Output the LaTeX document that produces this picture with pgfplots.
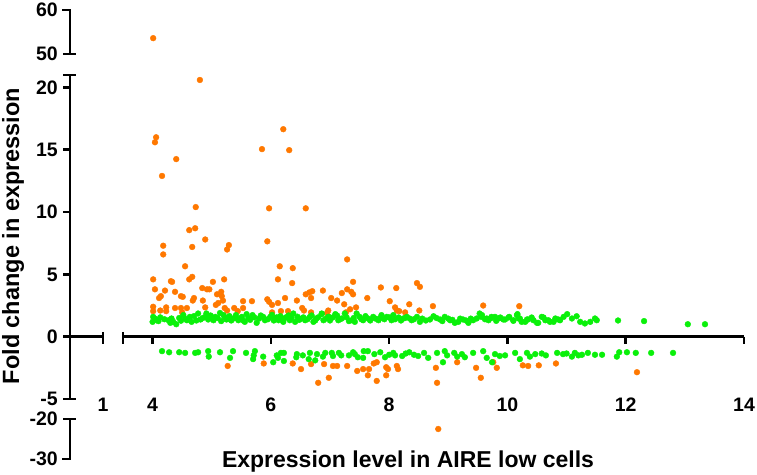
\documentclass[border=0pt]{standalone}
\usepackage{pgfplots}
\pgfplotsset{compat=1.18}
\usepackage{fontspec}
\setmainfont{Liberation Sans}
\definecolor{gor}{RGB}{255,120,0}
\definecolor{ggr}{RGB}{10,240,10}
\pgfplotsset{brk/.style={scale only axis, width=621bp, xmin=3.5, xmax=14, hide axis, clip=false, anchor=south west},
  orp/.style={only marks, mark=*, mark size=2.9bp, color=gor, mark options={draw=none, fill=gor}},
  grp/.style={only marks, mark=*, mark size=2.9bp, color=ggr, mark options={draw=none, fill=ggr}}}
\begin{document}
\begin{tikzpicture}[x=1bp,y=1bp]
\path[use as bounding box] (0,0) rectangle (757,475);
% top segment
\begin{axis}[brk, at={(123bp,421bp)}, height=44bp, ymin=50, ymax=60]
\addplot[orp] table {
x y
4.01 53.6
};
\end{axis}
% bottom segment
\begin{axis}[brk, at={(123bp,16bp)}, height=40bp, ymin=-30, ymax=-20]
\addplot[orp] table {
x y
8.83 -22.5
};
\end{axis}
% main segment
\begin{axis}[brk, at={(123bp,76bp)}, height=324bp, ymin=-5, ymax=21]
\addplot[orp] table {
x y
4.80 20.6
4.06 16.0
4.04 15.6
4.40 14.25
4.16 12.9
4.73 10.4
6.21 16.65
5.85 15.05
6.31 14.97
5.97 10.3
6.59 10.3
4.62 8.55
4.72 8.7
4.89 7.8
4.67 7.2
4.18 7.3
4.18 6.6
5.29 7.35
5.26 7.0
5.94 7.65
4.55 5.65
6.15 5.65
6.37 5.5
6.12 4.6
6.36 4.3
4.01 4.6
4.31 4.45
4.33 4.4
4.67 4.8
4.62 4.6
5.02 4.4
5.21 4.6
4.04 3.8
4.21 3.7
4.38 3.6
4.84 3.9
4.92 3.8
4.96 3.8
5.16 3.6
5.09 3.4
4.14 3.25
4.11 3.1
4.48 3.25
4.51 3.2
4.70 3.1
4.68 2.9
5.17 3.25
4.85 2.9
5.19 2.9
5.11 2.7
5.07 2.55
5.53 2.85
5.68 2.85
5.94 3.0
5.97 2.8
6.02 2.55
6.12 2.7
6.24 3.1
6.44 2.9
6.59 3.4
6.65 3.55
6.70 3.65
6.88 3.7
6.68 3.1
4.01 2.4
4.01 2.05
4.13 2.1
4.23 2.35
4.23 2.05
4.38 2.3
4.48 2.3
4.58 2.3
4.50 1.95
4.89 2.35
5.22 2.3
5.26 2.1
5.38 2.3
5.44 2.05
5.53 2.3
6.02 1.95
6.17 2.05
6.29 2.05
6.53 2.3
6.56 2.1
6.68 1.95
6.97 2.1
7.29 6.2
7.39 4.4
7.29 3.8
7.36 3.6
7.39 3.4
7.20 3.5
7.02 3.1
7.12 2.9
7.24 2.6
7.44 2.35
7.34 2.2
6.95 1.9
7.27 1.95
7.86 3.95
8.12 3.9
7.63 3.1
8.47 4.3
8.52 4.0
8.01 2.85
8.10 2.35
8.17 2.05
8.13 2.1
8.27 1.95
8.34 2.6
8.51 2.1
8.74 2.45
9.59 2.5
10.20 2.45
5.27 -2.35
5.88 -2.15
6.37 -2.15
6.51 -2.6
6.68 -2.2
6.80 -3.7
6.98 -3.3
6.90 -2.2
7.05 -2.35
7.12 -2.35
7.29 -2.35
7.46 -2.75
7.56 -2.6
7.64 -3.1
7.66 -2.6
7.74 -2.15
7.79 -2.05
7.79 -3.55
7.95 -2.45
7.98 -2.6
7.95 -3.1
8.13 -2.35
8.15 -2.6
8.79 -2.5
8.81 -3.7
9.15 -2.05
9.47 -2.5
9.55 -3.3
9.76 -2.05
9.82 -2.5
10.26 -2.3
10.35 -2.35
10.53 -2.3
10.82 -2.15
12.19 -2.85
};
\addplot[grp] table {
x y
4.00 1.19
4.04 1.46
4.07 1.32
4.01 1.59
4.27 1.32
4.30 1.11
4.35 1.19
4.40 1.0
4.32 1.46
4.52 1.73
4.58 1.32
4.66 1.19
4.63 1.59
4.77 1.86
4.81 1.38
4.89 1.59
4.91 1.86
4.94 1.38
5.03 1.32
5.06 1.59
5.14 1.90
5.20 1.73
5.25 1.38
5.37 1.46
5.41 1.73
5.45 1.32
5.51 1.59
5.56 1.19
5.59 1.81
5.69 1.73
5.76 1.11
5.87 1.59
5.90 1.32
5.99 1.59
6.07 1.46
6.13 1.32
6.21 1.19
6.27 1.59
6.32 1.32
6.38 1.86
6.41 1.19
6.52 1.46
6.58 1.32
6.66 1.59
6.72 1.19
6.77 1.46
6.86 1.86
6.89 1.32
6.97 1.59
4.10 1.25
4.13 1.55
4.20 1.40
4.45 1.50
4.48 1.28
4.55 1.45
4.70 1.65
4.74 1.30
4.85 1.50
4.98 1.70
5.00 1.45
5.10 1.50
5.16 1.25
5.22 1.55
5.30 1.65
5.33 1.30
5.40 1.55
5.48 1.45
5.53 1.30
5.62 1.50
5.65 1.35
5.72 1.55
5.80 1.45
5.83 1.70
5.95 1.40
6.02 1.75
6.05 1.30
6.10 1.55
6.16 1.65
6.19 1.40
6.24 1.50
6.30 1.70
6.35 1.50
6.45 1.60
6.48 1.35
6.55 1.55
6.62 1.40
6.69 1.70
6.75 1.30
6.80 1.55
6.93 1.45
6.86 1.81
6.98 1.59
7.09 1.81
7.14 1.32
7.20 1.46
7.25 1.86
7.37 1.32
7.42 1.19
7.45 1.86
7.50 1.59
7.56 1.32
7.64 1.46
7.73 1.59
7.82 1.32
7.87 1.73
7.96 1.59
8.04 1.32
8.07 1.73
8.16 1.54
8.24 1.46
8.30 1.59
8.38 1.32
8.47 1.59
8.52 1.19
8.69 1.38
8.75 1.64
8.86 1.38
8.94 1.59
9.03 1.32
9.11 1.11
9.17 1.19
9.25 1.38
9.34 1.11
9.42 1.32
9.48 1.46
9.53 1.86
9.56 1.59
9.68 1.32
9.79 1.59
9.85 1.46
9.93 1.38
10.02 1.54
10.10 1.32
10.16 1.73
10.21 1.46
10.30 1.19
10.35 1.38
10.44 1.32
10.52 1.11
10.61 1.54
10.69 1.32
10.78 1.19
10.86 1.38
7.00 1.30
7.05 1.55
7.12 1.70
7.17 1.40
7.28 1.55
7.32 1.25
7.40 1.50
7.53 1.40
7.60 1.65
7.68 1.30
7.77 1.45
7.85 1.50
7.92 1.40
8.00 1.55
8.10 1.40
8.20 1.30
8.27 1.50
8.35 1.45
8.42 1.40
8.56 1.45
8.62 1.30
8.80 1.50
8.90 1.25
9.00 1.45
9.07 1.35
9.20 1.45
9.30 1.30
9.38 1.45
9.62 1.40
9.73 1.50
9.57 1.73
9.65 1.46
9.73 1.59
9.81 1.27
9.88 1.54
9.96 1.38
10.03 1.59
10.10 1.27
10.17 1.81
10.19 1.46
10.24 1.19
10.33 1.38
10.41 1.54
10.50 1.11
10.58 1.59
10.64 1.32
10.72 1.19
10.81 1.46
10.89 1.32
10.95 1.59
11.01 1.81
11.09 1.46
11.17 1.64
11.23 1.19
11.31 1.06
11.40 1.19
11.48 1.46
11.51 1.32
11.87 1.3
12.31 1.25
13.05 1.0
13.34 1.0
4.16 -1.16
4.28 -1.25
4.45 -1.25
4.55 -1.3
4.72 -1.3
4.77 -1.25
4.94 -1.16
4.95 -1.6
5.14 -1.25
5.36 -1.16
5.31 -1.7
5.58 -1.3
5.73 -1.16
5.71 -1.5
5.70 -1.8
5.87 -1.6
6.10 -1.5
6.17 -1.3
6.22 -1.3
6.12 -1.7
6.04 -2.05
6.22 -1.95
6.44 -1.4
6.43 -1.65
6.66 -1.3
6.78 -1.4
6.64 -1.8
6.75 -1.9
6.92 -1.3
6.88 -1.6
6.54 -1.5
7.03 -1.3
7.05 -1.55
7.15 -1.3
7.19 -1.5
7.32 -1.5
7.39 -1.25
7.42 -1.4
7.47 -1.65
7.57 -1.16
7.64 -1.16
7.56 -1.7
7.75 -1.4
7.85 -1.25
7.93 -1.65
8.00 -1.45
8.07 -1.3
8.10 -1.5
8.22 -1.55
8.28 -1.35
8.34 -1.25
8.42 -1.45
8.49 -1.55
8.59 -1.3
8.66 -1.7
8.81 -1.3
8.91 -2.05
8.94 -1.16
8.98 -1.5
9.10 -1.3
9.15 -1.6
9.23 -1.4
9.28 -1.65
9.42 -1.3
9.59 -1.16
9.65 -1.7
9.74 -2.05
9.79 -1.4
9.87 -1.55
9.96 -1.5
10.13 -1.3
10.21 -1.8
10.33 -1.3
10.38 -1.6
10.47 -1.4
10.58 -1.35
10.65 -1.5
10.84 -1.3
10.94 -1.4
11.00 -1.35
11.09 -1.6
11.14 -1.3
11.20 -1.5
11.26 -1.45
11.36 -1.3
11.48 -1.45
11.60 -1.45
11.85 -1.6
11.89 -1.25
12.02 -1.25
12.17 -1.3
12.43 -1.3
12.80 -1.3
};
\end{axis}
% axes drawn by hand
\begin{scope}[line width=2.6bp, black, line join=miter]
% y axis
\draw (62,465) -- (70,465) -- (70,421);
\draw (63,421) -- (76,421);
\draw (63,400) -- (76,400);
\draw (70,400) -- (70,76);
\foreach \yy in {387.5,325.2,262.9,200.6,138.3} \draw (63,\yy) -- (70,\yy);
\draw (63,76) -- (76,76);
\draw (63,56) -- (76,56);
\draw (70,56) -- (70,16) -- (62,16);
% x axis
\draw (70,138.3) -- (103,138.3);
\draw (103,143) -- (103,131);
\draw (123,143) -- (123,131);
\draw (123,138.3) -- (744,138.3);
\foreach \xx in {152.6,270.9,389.1,507.4,625.7,744} \draw (\xx,138.3) -- (\xx,131);
\end{scope}
\begin{scope}[every node/.style={inner sep=0pt, font=\fontsize{19.5bp}{22bp}\selectfont\bfseries}]
\node[anchor=base] at (103,63) {1};
\node[anchor=base] at (152.6,63) {4};
\node[anchor=base] at (270.9,63) {6};
\node[anchor=base] at (389.1,63) {8};
\node[anchor=base] at (507.4,63) {10};
\node[anchor=base] at (625.7,63) {12};
\node[anchor=base] at (744,63) {14};
\node[anchor=east] at (58,465) {60};
\node[anchor=east] at (58,421) {50};
\node[anchor=east] at (58,387.5) {20};
\node[anchor=east] at (58,325.2) {15};
\node[anchor=east] at (58,262.9) {10};
\node[anchor=east] at (58,200.6) {5};
\node[anchor=east] at (58,138.3) {0};
\node[anchor=east] at (58,76) {-5};
\node[anchor=east] at (58,56) {-20};
\node[anchor=east] at (58,16) {-30};
\end{scope}
\node[inner sep=0pt, anchor=base, font=\fontsize{23bp}{26bp}\selectfont\bfseries] at (408,7) {Expression level in AIRE low cells};
\node[inner sep=0pt, anchor=base, rotate=90, font=\fontsize{23.5bp}{26bp}\selectfont\bfseries] at (19,239) {Fold change in expression};
\end{tikzpicture}
\end{document}
